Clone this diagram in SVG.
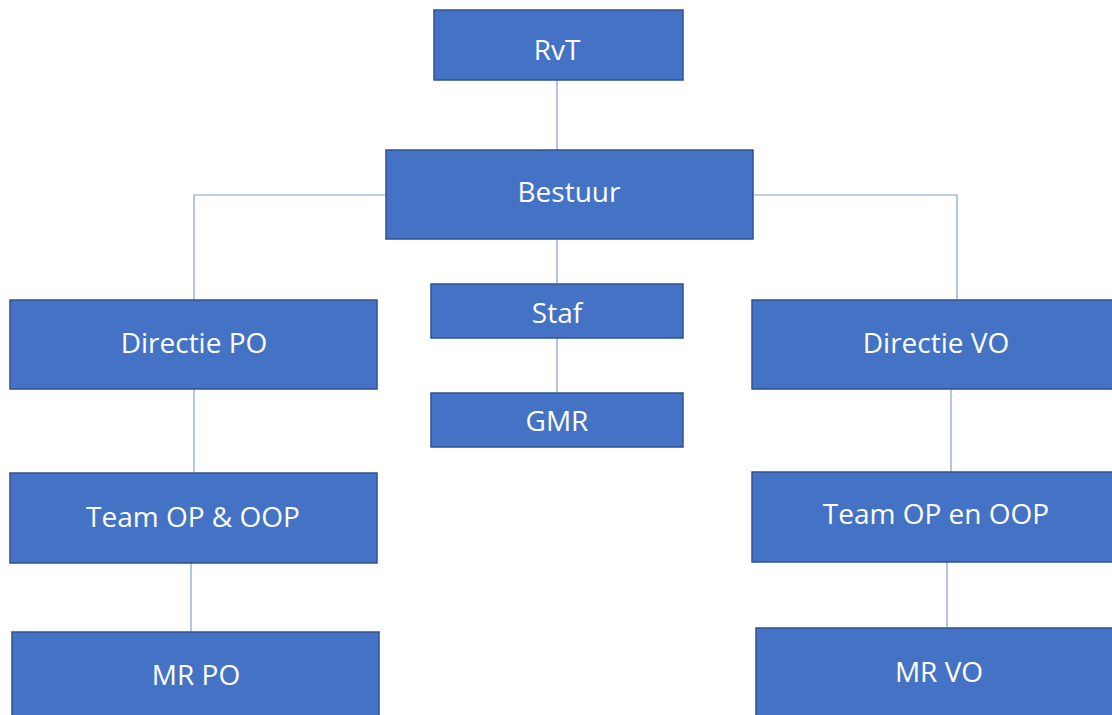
<svg xmlns="http://www.w3.org/2000/svg" width="1112" height="715" viewBox="0 0 1112 715">
<style>
.box{fill:#4472C4;stroke:#2F528F;stroke-width:1.5}
.lbl{fill:#FFFFFF;font-family:"Open Sans","Noto Sans",sans-serif;font-size:28px;text-anchor:middle}
.con{fill:none;stroke:#7F9FD8;stroke-width:1.2}
</style>
<rect width="1112" height="715" fill="#FFFFFF"/>
<g id="connectors">
<line class="con" x1="557" y1="80" x2="557" y2="150"/>
<polyline class="con" points="386,195 194,195 194,300"/>
<polyline class="con" points="753,195 957,195 957,300"/>
<line class="con" x1="557" y1="239" x2="557" y2="284"/>
<line class="con" x1="557" y1="338" x2="557" y2="393"/>
<line class="con" x1="194" y1="389" x2="194" y2="473"/>
<line class="con" x1="951" y1="389" x2="951" y2="472"/>
<line class="con" x1="191" y1="563" x2="191" y2="632"/>
<line class="con" x1="947" y1="562" x2="947" y2="628"/>
</g>
<g id="rvt"><rect class="box" x="434" y="10" width="249" height="70"/><text class="lbl" x="557" y="60">RvT</text></g>
<g id="bestuur"><rect class="box" x="386" y="150" width="367" height="89"/><text class="lbl" x="569" y="202">Bestuur</text></g>
<g id="staf"><rect class="box" x="431" y="284" width="252" height="54"/><text class="lbl" x="557" y="323">Staf</text></g>
<g id="gmr"><rect class="box" x="431" y="393" width="252" height="54"/><text class="lbl" x="557" y="431">GMR</text></g>
<g id="directie-po"><rect class="box" x="10" y="300" width="367" height="89"/><text class="lbl" x="194" y="353">Directie PO</text></g>
<g id="directie-vo"><rect class="box" x="752" y="300" width="368" height="89"/><text class="lbl" x="936" y="353">Directie VO</text></g>
<g id="team-po"><rect class="box" x="10" y="473" width="367" height="90"/><text class="lbl" x="193" y="527">Team OP &amp; OOP</text></g>
<g id="team-vo"><rect class="box" x="752" y="472" width="368" height="90"/><text class="lbl" x="936" y="524">Team OP en OOP</text></g>
<g id="mr-po"><rect class="box" x="12" y="632" width="367" height="100"/><text class="lbl" x="196" y="685">MR PO</text></g>
<g id="mr-vo"><rect class="box" x="756" y="628" width="368" height="100"/><text class="lbl" x="939" y="682">MR VO</text></g>
</svg>
